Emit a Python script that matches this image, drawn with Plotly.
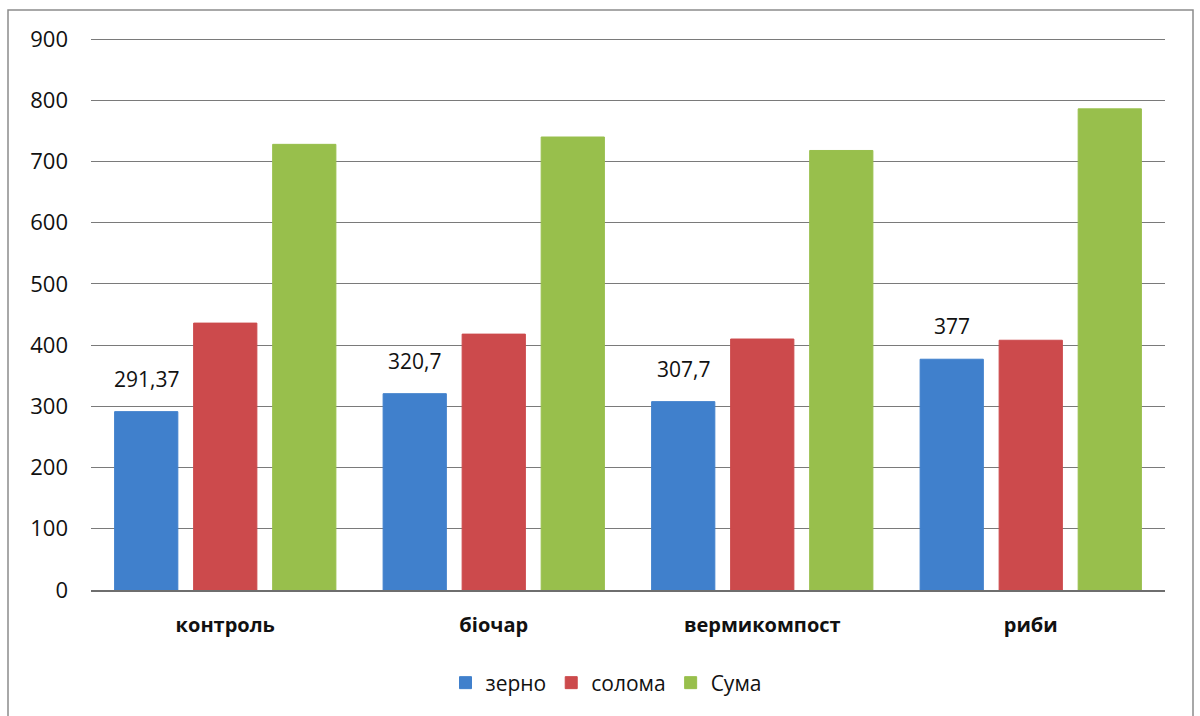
import plotly.graph_objects as go

# Yield components by treatment
categories = ["контроль", "біочар", "вермикомпост", "риби"]
grain = [291.37, 320.7, 307.7, 377]
straw = [436, 418, 410, 408]
total = [728, 740, 718, 786]

y_ticks = [0, 100, 200, 300, 400, 500, 600, 700, 800, 900]

series_names = ["зерно", "солома", "Сума"]
colors = ["#4080cc", "#cc4a4c", "#98bf4c"]

FONT = "Open Sans"
BARGAP = 0.117
BARGROUPGAP = 0.2
Y_MAX = 905

fig = go.Figure()
for name, vals, col in zip(series_names, [grain, straw, total], colors):
    fig.add_trace(go.Bar(
        x=categories, y=vals, name=name,
        marker=dict(color=col, line=dict(color=col, width=1)),
    ))

# value labels above the grain bars (decimal comma)
slot = (1 - BARGAP) / 3
for i, v in enumerate(grain):
    label = f"{v:g}".replace(".", ",")
    fig.add_annotation(
        x=i - slot, y=v, xref="x", yref="y", text=label, showarrow=False,
        yanchor="bottom", yshift=17,
        font=dict(family=FONT, size=21, color="#111111"),
    )

# outer frame of the chart area
top_margin = 36
pw, ph = 1200 - 91 - 35, 716 - top_margin - 126
fig.add_shape(
    type="rect", xref="paper", yref="paper",
    x0=(8 - 91) / pw, x1=(1193 - 91) / pw,
    y0=(590 - 740) / ph, y1=(590 - 10) / ph,
    line=dict(color="#8c8c8c", width=1.5), fillcolor="rgba(0,0,0,0)", layer="below",
)

fig.update_layout(
    width=1200, height=716,
    margin=dict(l=91, r=35, t=top_margin, b=126),
    paper_bgcolor="white", plot_bgcolor="white",
    barmode="group", bargap=BARGAP, bargroupgap=BARGROUPGAP,
    font=dict(family=FONT, color="#111111"),
    showlegend=True,
    legend=dict(
        orientation="h", x=0.505, xref="container", xanchor="center",
        y=(716 - 683) / 716, yref="container", yanchor="middle",
        font=dict(family=FONT, size=21), itemwidth=30,
        traceorder="normal",
    ),
)
fig.update_xaxes(
    showgrid=False, showline=True, linecolor="#6e6e6e", linewidth=1.5,
    ticks="", tickfont=dict(family=FONT, size=20, weight="bold"),
    ticklabelstandoff=16,
)
fig.update_yaxes(
    range=[0, Y_MAX], tickvals=y_ticks, showgrid=True, gridcolor="#7a7a7a",
    gridwidth=1.2, zeroline=False, showline=False, ticks="",
    tickfont=dict(family=FONT, size=22), ticklabelstandoff=22,
)

fig.write_html("out.html")
